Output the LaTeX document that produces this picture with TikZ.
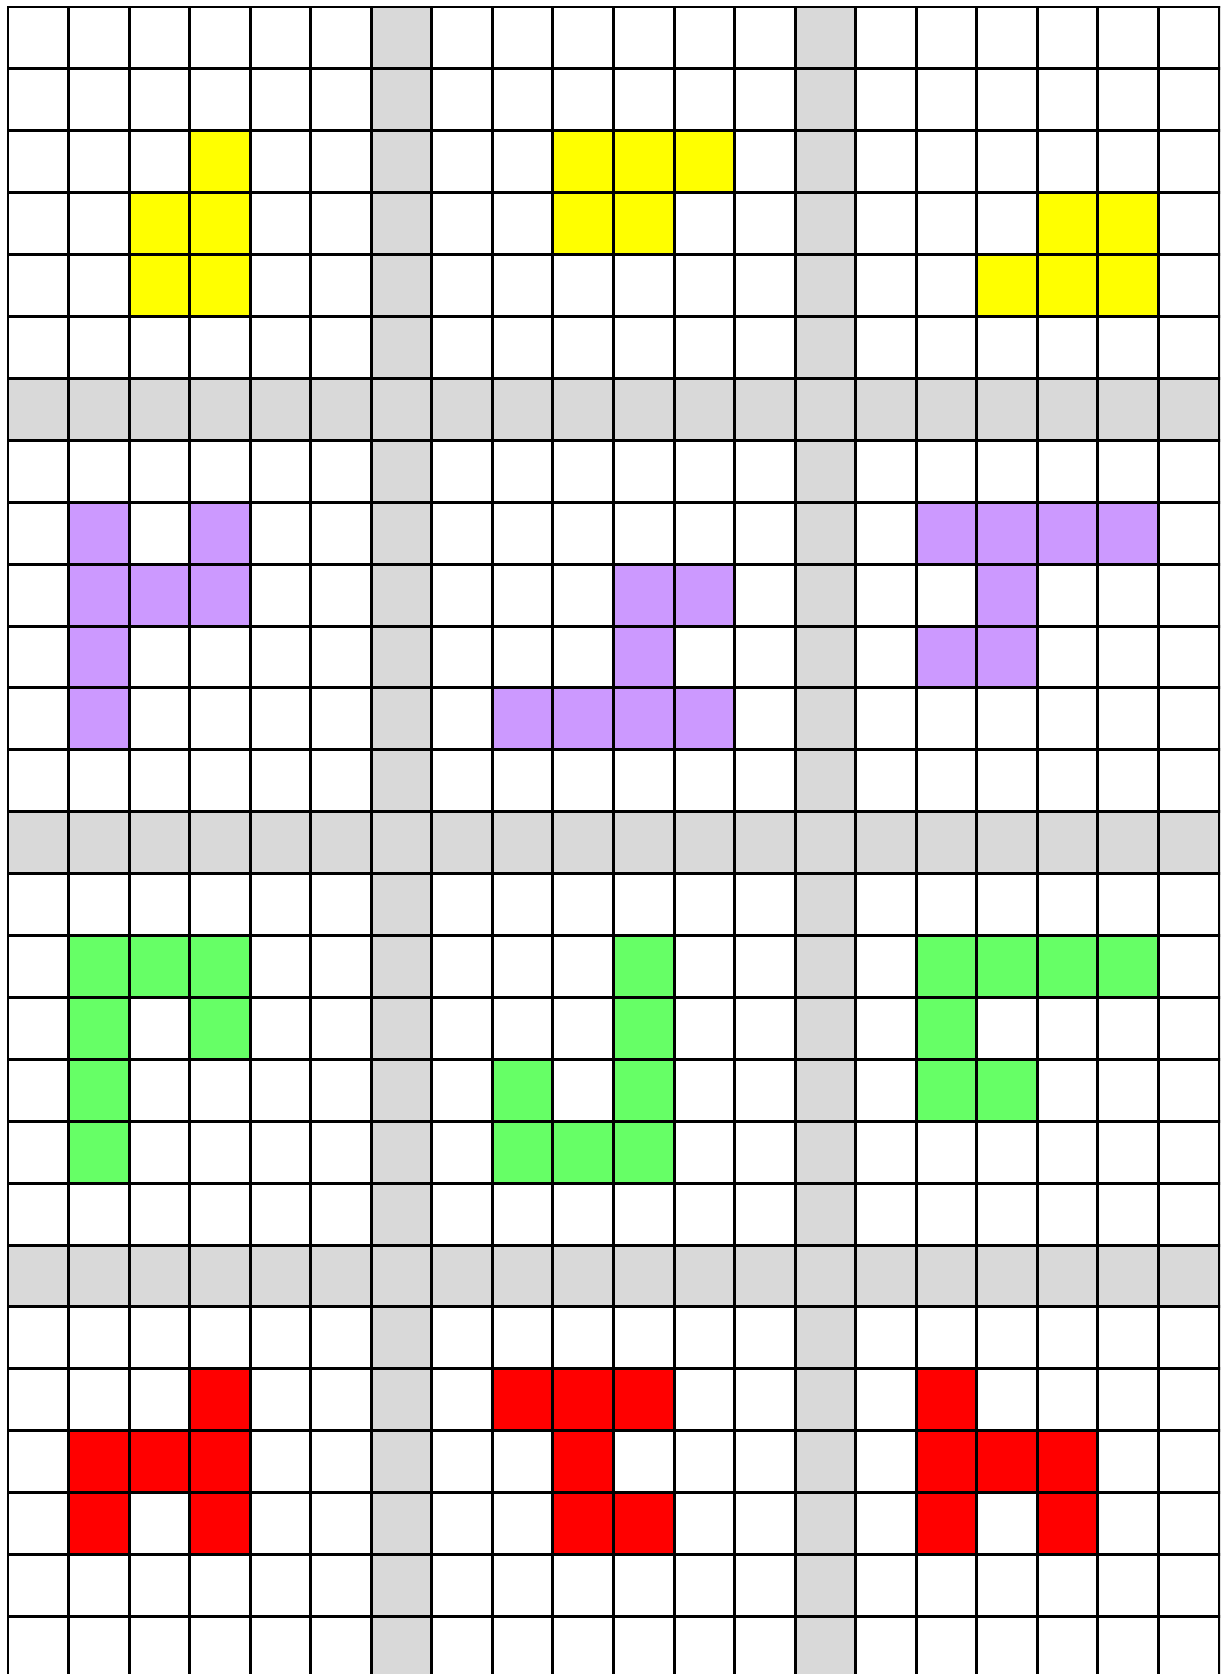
\documentclass[tikz,border=0pt]{standalone}
\usetikzlibrary{calc}
\definecolor{cellgray}{HTML}{D9D9D9}
\definecolor{cellyellow}{HTML}{FFFF00}
\definecolor{cellpurple}{HTML}{CC99FF}
\definecolor{cellgreen}{HTML}{66FF66}
\definecolor{cellred}{HTML}{FF0000}
\tikzset{
  gridline/.style = {line width=1.4pt, black, line cap=rect},
  sep/.style      = {fill=cellgray},
}
\begin{document}
\begin{tikzpicture}[x=1cm,y=-1.0223cm]
  \useasboundingbox (-0.132,-0.113) rectangle (20.017,26.93);
  \clip (-0.132,-0.113) rectangle (20.017,26.93);
  % separator bands
  \foreach \c in {6,13} \fill[sep] (\c,0) rectangle ++(1,27);
  \foreach \r in {6,13,20} \fill[sep] (0,\r) rectangle ++(20,1);
  % pieces
  \foreach \c/\r in {3/2,2/3,3/3,2/4,3/4, 9/2,10/2,11/2,9/3,10/3,
                     17/3,18/3,16/4,17/4,18/4}
    \fill[cellyellow] (\c,\r) rectangle ++(1,1);
  \foreach \c/\r in {1/8,3/8,1/9,2/9,3/9,1/10,1/11,
                     10/9,11/9,10/10,8/11,9/11,10/11,11/11,
                     15/8,16/8,17/8,18/8,16/9,15/10,16/10}
    \fill[cellpurple] (\c,\r) rectangle ++(1,1);
  \foreach \c/\r in {1/15,2/15,3/15,1/16,3/16,1/17,1/18,
                     10/15,10/16,8/17,10/17,8/18,9/18,10/18,
                     15/15,16/15,17/15,18/15,15/16,15/17,16/17}
    \fill[cellgreen] (\c,\r) rectangle ++(1,1);
  \foreach \c/\r in {3/22,1/23,2/23,3/23,1/24,3/24,
                     8/22,9/22,10/22,9/23,9/24,10/24,
                     15/22,15/23,16/23,17/23,15/24,17/24}
    \fill[cellred] (\c,\r) rectangle ++(1,1);
  % grid
  \foreach \c in {0,...,20} \draw[gridline] (\c,0) -- (\c,27);
  \foreach \r in {0,...,26} \draw[gridline] (0,\r) -- (20,\r);
\end{tikzpicture}
\end{document}
